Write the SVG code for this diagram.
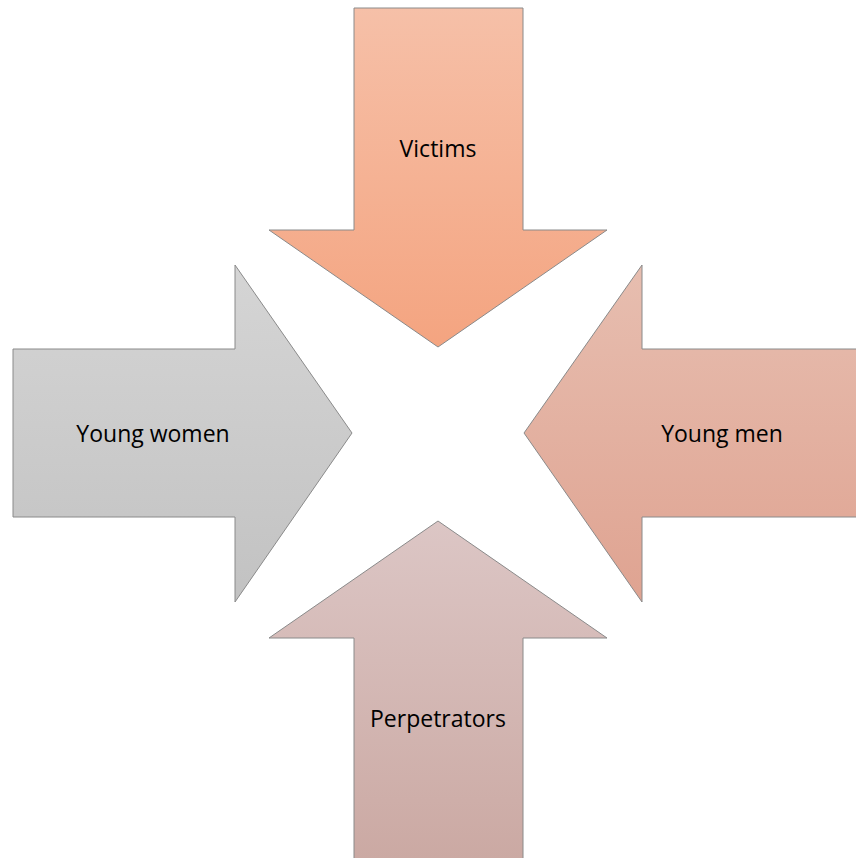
<svg xmlns="http://www.w3.org/2000/svg" width="856" height="858" viewBox="0 0 856 858">
<defs>
<linearGradient id="gTop" x1="0" y1="0" x2="0" y2="1"><stop offset="0" stop-color="#f6c0a8"/><stop offset="1" stop-color="#f4a480"/></linearGradient>
<linearGradient id="gLeft" x1="0" y1="0" x2="0" y2="1"><stop offset="0" stop-color="#d5d5d5"/><stop offset="1" stop-color="#c2c2c2"/></linearGradient>
<linearGradient id="gRight" x1="0" y1="0" x2="0" y2="1"><stop offset="0" stop-color="#e7beb0"/><stop offset="1" stop-color="#dfa391"/></linearGradient>
<linearGradient id="gBottom" x1="0" y1="0" x2="0" y2="1"><stop offset="0" stop-color="#dcc6c5"/><stop offset="1" stop-color="#cba9a3"/></linearGradient>
</defs>
<style>
.arrow{stroke:#8a8a8a;stroke-width:1;stroke-linejoin:miter}
.lbl{font-family:"Open Sans","Liberation Sans",sans-serif;font-size:23px;fill:#000;text-anchor:middle}
</style>
<rect width="856" height="858" fill="#fff"/>
<g id="victims">
<polygon class="arrow" fill="url(#gTop)" points="354,8 523,8 523,230 607,230 438,347 269,230 354,230"/>
<text class="lbl" x="438" y="157">Victims</text>
</g>
<g id="young-women">
<polygon class="arrow" fill="url(#gLeft)" points="13,349 235,349 235,265 352,433 235,602 235,517 13,517"/>
<text class="lbl" x="153" y="442">Young women</text>
</g>
<g id="young-men">
<polygon class="arrow" fill="url(#gRight)" points="857,349 642,349 642,265 524,433 642,602 642,517 857,517"/>
<text class="lbl" x="722" y="442">Young men</text>
</g>
<g id="perpetrators">
<polygon class="arrow" fill="url(#gBottom)" points="354,859 354,638 269,638 438,521 607,638 523,638 523,859"/>
<text class="lbl" x="438" y="727">Perpetrators</text>
</g>
<g id="connectors"></g>
</svg>
